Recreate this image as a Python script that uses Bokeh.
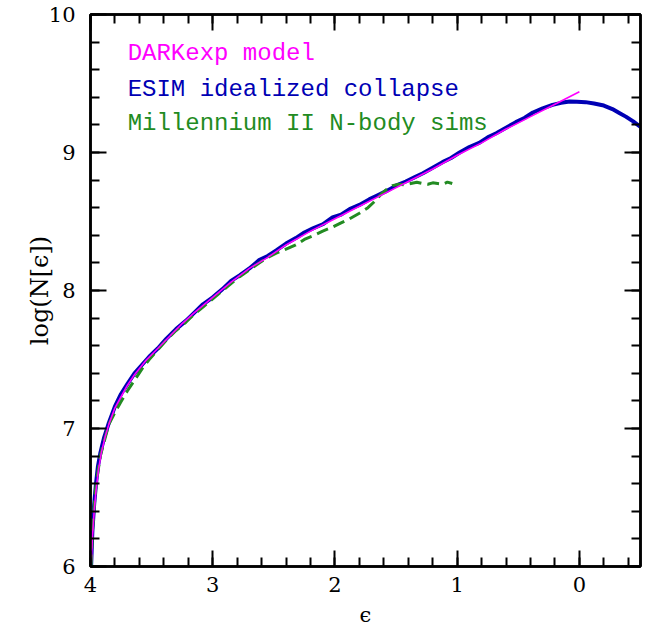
from bokeh.plotting import figure
from bokeh.models import Range1d, LinearAxis, SingleIntervalTicker, Label, CustomJSTickFormatter
from bokeh.embed import file_html
from bokeh.resources import INLINE

# DARKexp model (magenta)
dark_x = [3.995, 3.985, 3.97, 3.955, 3.935, 3.91, 3.88, 3.85, 3.80, 3.75, 3.70, 3.64,
          3.55, 3.45, 3.35, 3.25, 3.15, 3.00, 2.85, 2.70, 2.55, 2.40, 2.20, 2.00,
          1.80, 1.60, 1.40, 1.20, 1.00, 0.80, 0.60, 0.40, 0.20, 0.00]
dark_y = [6.00, 6.20, 6.40, 6.55, 6.70, 6.83, 6.94, 7.03, 7.15, 7.23, 7.31, 7.39,
          7.49, 7.58, 7.67, 7.76, 7.84, 7.95, 8.06, 8.16, 8.24, 8.33, 8.43, 8.52,
          8.61, 8.70, 8.79, 8.88, 8.98, 9.07, 9.17, 9.26, 9.35, 9.44]

# ESIM idealized collapse (blue)
esim_x = [3.995, 3.985, 3.97, 3.955, 3.94, 3.92, 3.89, 3.85, 3.80, 3.75, 3.70, 3.64,
          3.58, 3.52, 3.45, 3.38, 3.30, 3.22, 3.15, 3.08, 3.00, 2.92, 2.85, 2.78,
          2.70, 2.62, 2.55, 2.48, 2.40, 2.32, 2.25, 2.18, 2.10, 2.02, 1.95, 1.88,
          1.80, 1.72, 1.65, 1.58, 1.50, 1.42, 1.35, 1.28, 1.20, 1.12, 1.05, 0.98,
          0.90, 0.82, 0.75, 0.68, 0.60, 0.52, 0.45, 0.38, 0.30, 0.22, 0.15, 0.08,
          0.02, -0.05, -0.12, -0.20, -0.27, -0.33, -0.38, -0.44, -0.50]
esim_y = [6.00, 6.25, 6.45, 6.60, 6.72, 6.82, 6.93, 7.04, 7.16, 7.25, 7.32, 7.40,
          7.46, 7.52, 7.58, 7.65, 7.72, 7.78, 7.84, 7.90, 7.95, 8.01, 8.07, 8.11,
          8.16, 8.22, 8.25, 8.29, 8.34, 8.38, 8.42, 8.45, 8.48, 8.53, 8.55, 8.59,
          8.62, 8.66, 8.69, 8.72, 8.76, 8.79, 8.82, 8.85, 8.89, 8.93, 8.96, 9.00,
          9.04, 9.07, 9.11, 9.14, 9.18, 9.22, 9.25, 9.29, 9.32, 9.345, 9.36, 9.37,
          9.368, 9.365, 9.355, 9.34, 9.315, 9.285, 9.26, 9.225, 9.185]

# Millennium II N-body sims (green, dashed)
mill_x = [3.995, 3.985, 3.973, 3.96, 3.945, 3.92, 3.89, 3.85, 3.81, 3.76, 3.70, 3.64,
          3.58, 3.52, 3.45, 3.38, 3.30, 3.22, 3.15, 3.08, 3.00, 2.92, 2.85, 2.78,
          2.70, 2.62, 2.55, 2.48, 2.40, 2.32, 2.25, 2.17, 2.10, 2.02, 1.95, 1.88,
          1.80, 1.73, 1.67, 1.62, 1.58, 1.53, 1.48, 1.43, 1.38, 1.33, 1.28, 1.24,
          1.20, 1.16, 1.12, 1.08, 1.04]
mill_y = [6.00, 6.25, 6.40, 6.55, 6.65, 6.80, 6.90, 7.03, 7.10, 7.18, 7.27, 7.35,
          7.43, 7.50, 7.57, 7.64, 7.71, 7.77, 7.83, 7.88, 7.94, 8.00, 8.05, 8.10,
          8.15, 8.20, 8.24, 8.27, 8.30, 8.33, 8.37, 8.40, 8.43, 8.46, 8.49, 8.52,
          8.56, 8.60, 8.65, 8.70, 8.73, 8.76, 8.77, 8.765, 8.775, 8.785, 8.775, 8.77,
          8.78, 8.775, 8.77, 8.785, 8.775]

legend_labels = ["DARKexp model", "ESIM idealized collapse", "Millennium II N-body sims"]
legend_colors = ["#FF00FF", "#0000B4", "#228B22"]

TICK_FONT = "DejaVu Serif"

p = figure(width=648, height=633, x_range=Range1d(4, -0.5), y_range=Range1d(6, 10),
           output_backend="svg", toolbar_location=None,
           min_border_left=90, min_border_right=8, min_border_top=14, min_border_bottom=67,
           x_axis_label="\u03f5", y_axis_label="log(N[\u03f5])")
p.grid.visible = False
p.outline_line_color = "black"
p.outline_line_width = 2.5
p.background_fill_color = "white"
p.border_fill_color = "white"

bottom_axis = p.below[0]
left_axis = p.left[0]
bottom_axis.ticker = SingleIntervalTicker(interval=1, num_minor_ticks=5)
left_axis.ticker = SingleIntervalTicker(interval=1, num_minor_ticks=5)

blank = CustomJSTickFormatter(code="return ''")
top_axis = LinearAxis(ticker=SingleIntervalTicker(interval=1, num_minor_ticks=5), formatter=blank)
right_axis = LinearAxis(ticker=SingleIntervalTicker(interval=1, num_minor_ticks=5), formatter=blank)
p.add_layout(top_axis, "above")
p.add_layout(right_axis, "right")

for ax in [bottom_axis, left_axis, top_axis, right_axis]:
    ax.axis_line_color = "black"
    ax.axis_line_width = 2.5
    ax.major_tick_line_color = "black"
    ax.major_tick_line_width = 2
    ax.minor_tick_line_color = "black"
    ax.minor_tick_line_width = 2
    ax.major_tick_in = 16
    ax.major_tick_out = 0
    ax.minor_tick_in = 9
    ax.minor_tick_out = 0
    ax.major_label_text_font = TICK_FONT
    ax.major_label_text_font_size = "21px"
    ax.major_label_text_color = "black"
    ax.axis_label_text_font = TICK_FONT
    ax.axis_label_text_font_size = "24px"
    ax.axis_label_text_font_style = "normal"
    ax.axis_label_text_color = "black"

for ax in [top_axis, right_axis]:
    ax.major_label_standoff = 0

bottom_axis.major_label_standoff = 10
bottom_axis.axis_label_standoff = 8
bottom_axis.axis_label_text_font_size = "21px"
left_axis.major_label_standoff = 15
left_axis.axis_label_standoff = -8

p.line(esim_x, esim_y, line_color="#0000B4", line_width=4)
p.line(mill_x, mill_y, line_color="#228B22", line_width=3, line_dash="12 6")
p.line(dark_x, dark_y, line_color="#FF00FF", line_width=1.6)

legend_y = [9.717, 9.457, 9.21]
for txt, col, yy in zip(legend_labels, legend_colors, legend_y):
    p.add_layout(Label(x=3.696, y=yy, text=txt, text_color=col,
                       text_font="Liberation Mono", text_font_size="24px",
                       text_baseline="middle", text_align="left"))

open("out.html", "w").write(file_html(p, INLINE))
